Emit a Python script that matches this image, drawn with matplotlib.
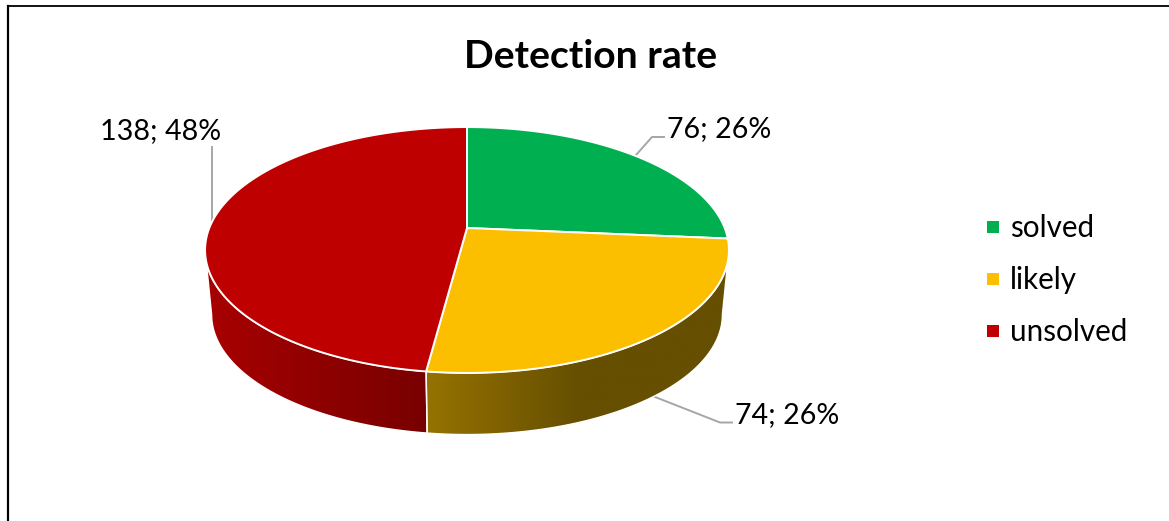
import numpy as np
import matplotlib
matplotlib.use('Agg')
import matplotlib.pyplot as plt
from matplotlib.colors import LinearSegmentedColormap
from matplotlib.lines import Line2D
from matplotlib.patches import Polygon

categories = ['solved', 'likely', 'unsolved']
values = [76, 74, 138]
colors = ['#00b050', '#fcbf00', '#bf0000']
side_colors = [
    ['#006a30', '#00a04a'],
    ['#967200', '#664f00', '#664f00'],
    ['#a80000', '#780000'],
]
title = 'Detection rate'

plt.rcParams['font.family'] = ['Lato', 'DejaVu Sans']

# pie geometry in pixels: apex, radius, perspective
cx, cy = 467, 228
rx, ry, k = 257.7, 119.0, 0.179
depth, shrink = 65.2, 0.975


def project(theta, scale=1.0, dy=0.0):
    # disc tilted away from the viewer, theta is clockwise from 12 o'clock
    den = 1 + k * np.cos(theta)
    x = cx + scale * rx * np.sin(theta) / den
    y = cy + dy - scale * ry * np.cos(theta) / den
    return np.column_stack([x, y])


total = sum(values)
edges = 2 * np.pi * np.cumsum([0] + values) / total

# the wall only shows between the two widest points of the rim
front_a = np.arccos(-k)
front_b = 2 * np.pi - front_a

fig = plt.figure(figsize=(11.69, 5.21), dpi=100)
ax = fig.add_axes([0, 0, 1, 1])
ax.set_xlim(0, 1169)
ax.set_ylim(521, 0)
ax.axis('off')

# outer frame
ax.plot([7.5, 7.5], [521, 6], color='black', lw=1.6, zorder=1)
ax.plot([7.5, 1169], [6, 6], color='black', lw=1.3, zorder=1)

# leader lines
grey = '#a6a6a6'
ax.plot([636, 652, 664], [155, 137, 137], color=grey, lw=1.4, zorder=2)
ax.plot([650, 720, 732], [395, 422.5, 422.5], color=grey, lw=1.4, zorder=2)
ax.plot([212, 212], [147, 221], color=grey, lw=1.4, zorder=2)

# sides first
for i in range(3):
    a = max(edges[i], front_a)
    b = min(edges[i + 1], front_b)
    if b <= a:
        continue
    t = np.linspace(a, b, 200)
    top = project(t)
    bottom = project(t, shrink, depth)
    wall = Polygon(np.vstack([top, bottom[::-1]]), closed=True, facecolor='none',
                   edgecolor='white', lw=1.0, zorder=4, transform=ax.transData)
    ax.add_patch(wall)
    xmin = min(top[:, 0].min(), bottom[:, 0].min())
    xmax = max(top[:, 0].max(), bottom[:, 0].max())
    cmap = LinearSegmentedColormap.from_list('wall%d' % i, side_colors[i])
    grad = np.linspace(0, 1, 256).reshape(1, -1)
    im = ax.imshow(grad, cmap=cmap, extent=[xmin, xmax, 521, 0], aspect='auto', zorder=3)
    im.set_clip_path(wall)

# top face
for i in range(3):
    t = np.linspace(edges[i], edges[i + 1], 200)
    pts = np.vstack([[cx, cy], project(t)])
    ax.add_patch(Polygon(pts, closed=True, facecolor=colors[i], edgecolor='white',
                         lw=1.4, joinstyle='round', zorder=5))

ax.set_xlim(0, 1169)
ax.set_ylim(521, 0)

ax.text(590.5, 56, title, fontsize=28.2, fontweight='bold', ha='center', va='center', color='black')

# data labels
label_pos = [(719.5, 129), (787.5, 415), (161, 131)]
for i in range(3):
    pct = round(100 * values[i] / total)
    ax.text(label_pos[i][0], label_pos[i][1], '%d; %d%%' % (values[i], pct),
            fontsize=20.6, ha='center', va='center', color='black')

handles = [Line2D([], [], marker='s', linestyle='none', markersize=9.2, color=c, markeredgewidth=0)
           for c in colors]
ax.legend(handles, categories, loc='center left', bbox_to_anchor=(978, 280),
          bbox_transform=ax.transData, frameon=False, fontsize=21.3, labelspacing=0.81,
          handlelength=1.0, handletextpad=0.07, borderpad=0, borderaxespad=0)

fig.savefig('out.png', dpi=100)
